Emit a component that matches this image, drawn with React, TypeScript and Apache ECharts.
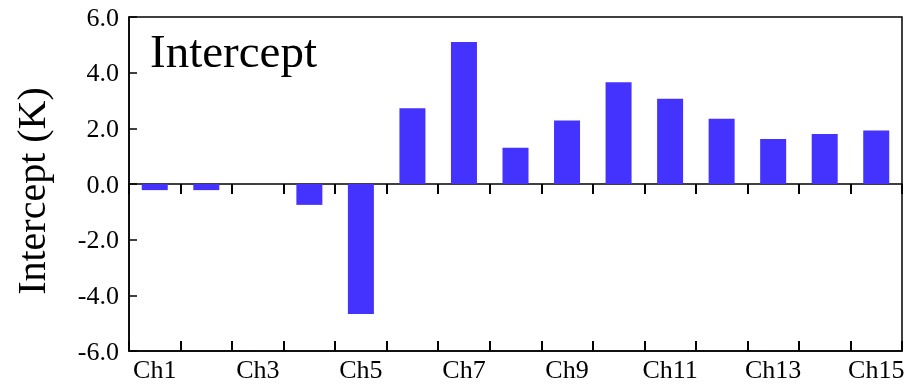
import React, { useEffect, useRef } from "react";
import * as echarts from "echarts";

const categories = ["Ch1", "Ch2", "Ch3", "Ch4", "Ch5", "Ch6", "Ch7", "Ch8", "Ch9", "Ch10", "Ch11", "Ch12", "Ch13", "Ch14", "Ch15"];
const intercept = [-0.22, -0.22, 0, -0.75, -4.67, 2.72, 5.1, 1.3, 2.28, 3.66, 3.06, 2.34, 1.62, 1.8, 1.92];
const yMin = -6;
const yMax = 6;
const yStep = 2;
const panelLabel = "Intercept";
const yAxisTitle = "Intercept (K)";

const FONT = "'Liberation Serif', 'Times New Roman', serif";

export default function App() {
  const ref = useRef<HTMLDivElement>(null);
  useEffect(() => {
    if (!ref.current) return;
    const chart = echarts.init(ref.current, null, { renderer: "svg" });
    chart.setOption({
      animation: false,
      grid: {
        left: 129,
        right: 7,
        top: 17,
        bottom: 35,
        show: true,
        borderColor: "#000",
        borderWidth: 1.5,
        backgroundColor: "transparent",
      },
      graphic: [
        {
          type: "text",
          x: 150,
          y: 51,
          style: {
            text: panelLabel,
            fontFamily: FONT,
            fontSize: 47,
            fill: "#000",
            verticalAlign: "middle",
            align: "left",
          },
        },
      ],
      xAxis: [
        {
          type: "category",
          data: categories,
          position: "bottom",
          boundaryGap: true,
          axisLine: { onZero: false, lineStyle: { color: "#000", width: 1.5 } },
          axisTick: { show: true, inside: true, length: 10, interval: 0, alignWithLabel: false, lineStyle: { color: "#000", width: 2 } },
          axisLabel: { interval: 1, margin: 5, color: "#000", fontFamily: FONT, fontSize: 26 },
          splitLine: { show: false },
        },
        {
          type: "category",
          data: categories,
          position: "bottom",
          boundaryGap: true,
          axisLine: { onZero: true, lineStyle: { color: "#000", width: 1.5 } },
          axisTick: { show: true, inside: false, length: 10, interval: 0, alignWithLabel: false, lineStyle: { color: "#000", width: 2 } },
          axisLabel: { show: false },
          splitLine: { show: false },
        },
      ],
      yAxis: {
        type: "value",
        min: yMin,
        max: yMax,
        interval: yStep,
        name: yAxisTitle,
        nameLocation: "middle",
        nameRotate: 90,
        nameGap: 78,
        nameTextStyle: { fontFamily: FONT, fontSize: 40, color: "#000", padding: [0, 14, 0, 0] },
        axisLine: { show: true, lineStyle: { color: "#000", width: 1.5 } },
        axisTick: { show: true, inside: true, length: 8, lineStyle: { color: "#000", width: 1.5 } },
        axisLabel: {
          margin: 10,
          color: "#000",
          fontFamily: FONT,
          fontSize: 26,
          formatter: (v: number) => v.toFixed(1),
        },
        splitLine: { show: false },
      },
      series: [
        {
          type: "bar",
          xAxisIndex: 0,
          data: intercept,
          barWidth: 26,
          itemStyle: { color: "#4433ff" },
        },
      ],
    });
    return () => chart.dispose();
  }, []);
  return <div ref={ref} style={{ position: "fixed", left: 0, top: 0, width: 909, height: 386 }} />;
}
